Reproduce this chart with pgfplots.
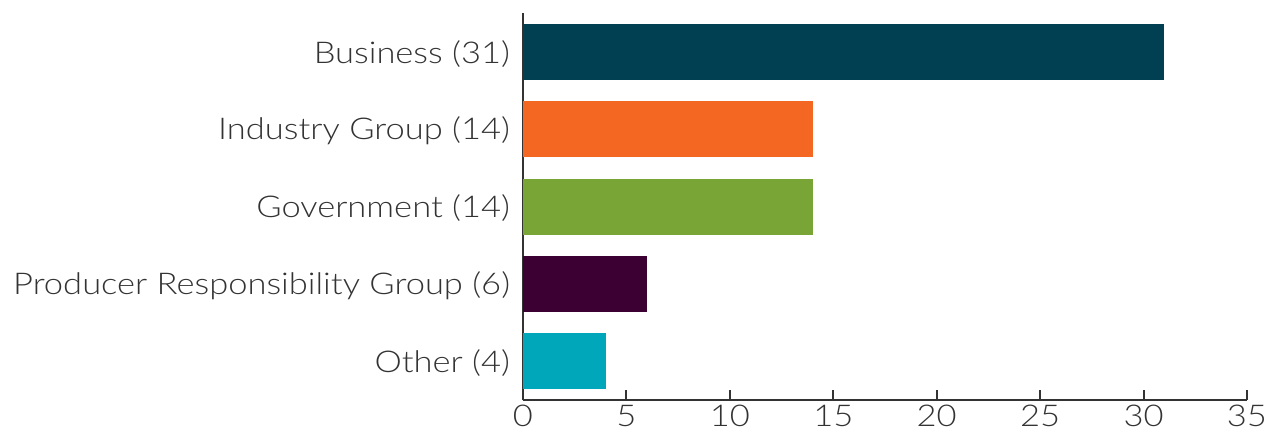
\documentclass[border=0pt]{standalone}
\usepackage{fontspec}
\setmainfont{Lato}[UprightFont={* Light}, FakeStretch=1.15]
\usepackage{pgfplots}
\pgfplotsset{compat=1.18}
\definecolor{cBus}{RGB}{0,64,82}
\definecolor{cInd}{RGB}{243,103,35}
\definecolor{cGov}{RGB}{120,165,53}
\definecolor{cPRG}{RGB}{61,0,51}
\definecolor{cOth}{RGB}{0,166,185}
\definecolor{cAx}{RGB}{51,51,51}
\begin{document}
\begin{tikzpicture}
\path[use as bounding box] (-261.5pt,-17.5pt) rectangle (378pt,200pt);
\begin{axis}[
  scale only axis,
  width=362pt, height=193.5pt,
  xmin=0, xmax=35, ymin=-0.5, ymax=4.5,
  xbar, bar width=28pt,
  axis x line*=bottom, axis y line*=left,
  axis line style={cAx, line width=1pt},
  xtick={0,5,...,35},
  ytick={0,1,2,3,4},
  yticklabels={Other (4),Producer Responsibility Group (6),Government (14),Industry Group (14),Business (31)},
  tick align=inside,
  major tick length=5pt,
  xtick style={cAx, line width=1pt},
  ytick style={draw=none},
  tick label style={font=\fontsize{15}{18}\selectfont, text=cAx},
  /pgf/number format/assume math mode=true,
  xticklabel style={yshift=1pt},
  yticklabel style={xshift=-3pt, yshift=-1pt},
]
\addplot[fill=cBus, draw=none, bar shift=0pt] coordinates {(31,4)};
\addplot[fill=cInd, draw=none, bar shift=0pt] coordinates {(14,3)};
\addplot[fill=cGov, draw=none, bar shift=0pt] coordinates {(14,2)};
\addplot[fill=cPRG, draw=none, bar shift=0pt] coordinates {(6,1)};
\addplot[fill=cOth, draw=none, bar shift=0pt] coordinates {(4,0)};
\end{axis}
\end{tikzpicture}
\end{document}
